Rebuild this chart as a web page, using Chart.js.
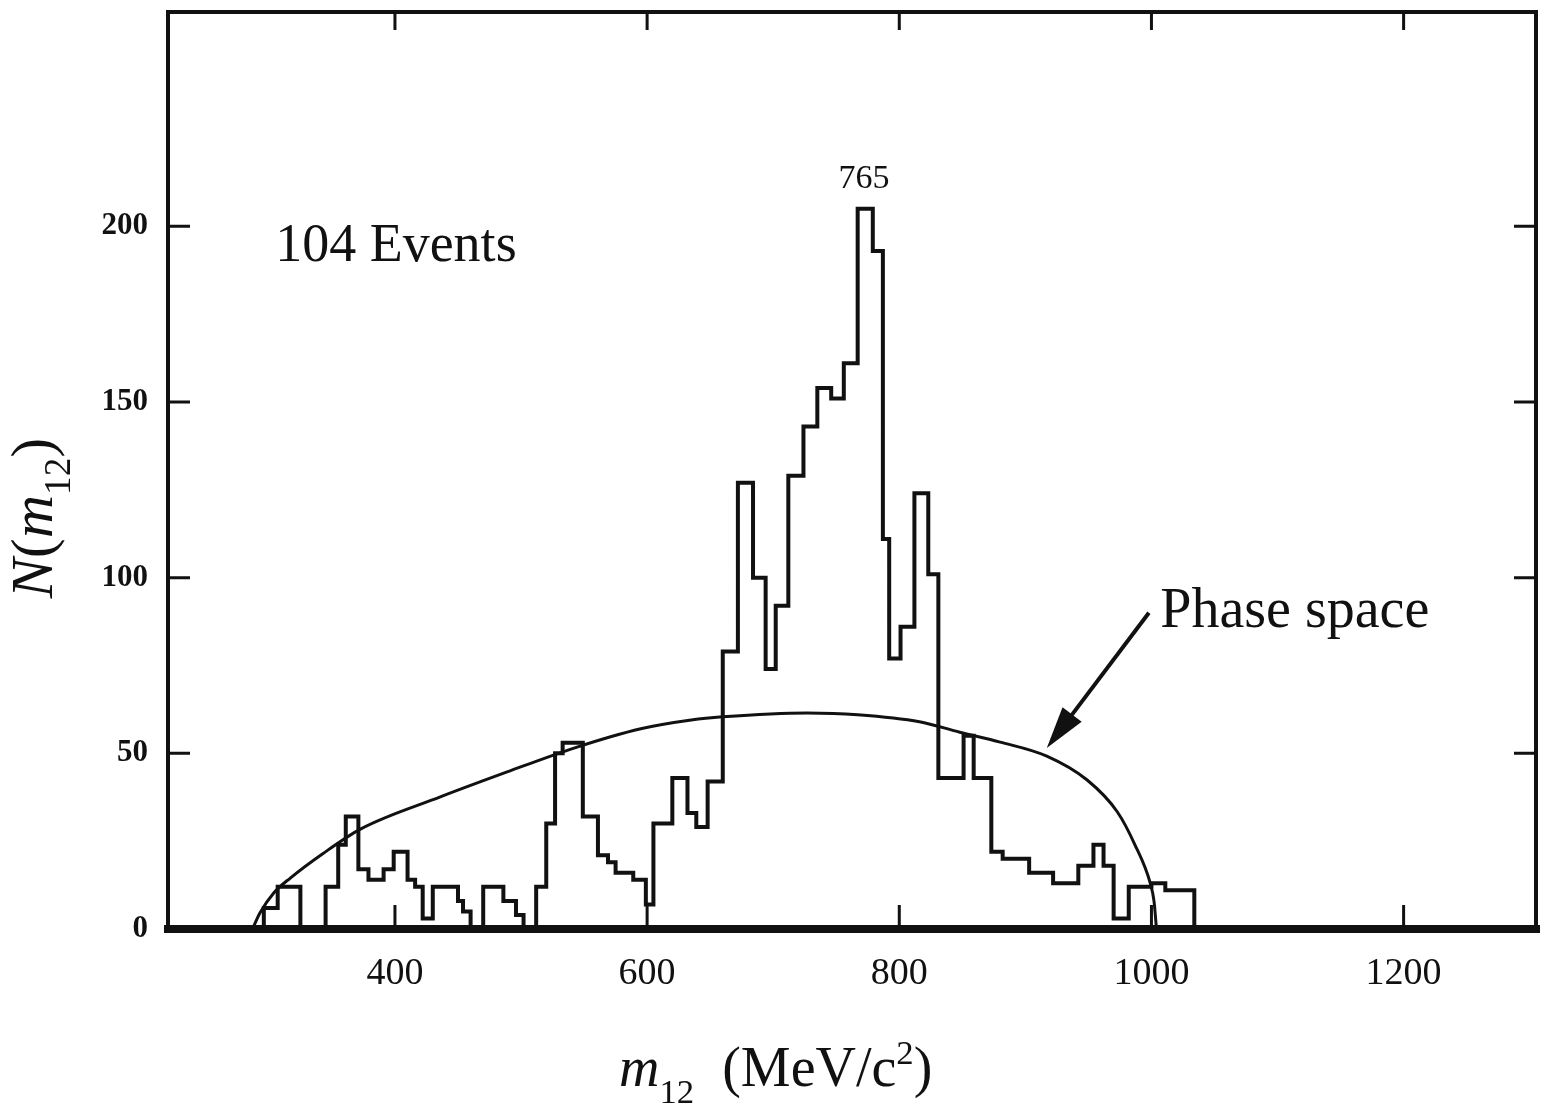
<!DOCTYPE html>
<html>
<head>
<meta charset="utf-8">
<script src="https://cdn.jsdelivr.net/npm/chart.js@4.4.1/dist/chart.umd.min.js"></script>
<style>
  html, body { margin: 0; padding: 0; background: #fff; }
</style>
</head>
<body>
<canvas id="massChart" width="1543" height="1107"></canvas>
<script>
// histogram bin edges, m12 in MeV/c^2
const binEdges = [296, 307, 325, 345, 355, 361, 371, 379, 391, 399, 410, 416, 422, 430, 450, 454,
  460, 470, 486, 496, 502, 512, 520, 527, 533, 549, 561, 569, 575, 589, 599, 605, 620, 632, 639,
  648, 660, 672, 684, 694, 702, 712, 724, 735, 746, 756, 767, 779, 787, 792, 801, 812, 823, 831,
  851, 859, 873, 882, 903, 922, 942, 954, 962, 970, 982, 1000, 1011, 1034];
// N(m12) in each bin
const binCounts = [6, 12, 0, 12, 24, 32, 17, 14, 17, 22, 14, 12, 3, 12, 8, 5,
  0, 12, 8, 4, 0, 12, 30, 50, 53, 32, 21, 19, 16, 14, 7, 30, 43, 33, 29,
  42, 79, 127, 100, 74, 92, 129, 143, 154, 151, 161, 205, 193, 111, 77, 86, 124, 101, 43,
  55, 43, 22, 20, 16, 13, 18, 24, 18, 3, 12, 13, 11];

// phase space curve
const psMass = [287, 293, 304, 317, 343, 373, 436, 489, 542, 595, 635, 660, 727, 767, 816, 848,
  880, 917, 949, 973, 987, 999, 1002, 1004];
const psValue = [0, 4.6, 10.3, 14.5, 21.5, 28.5, 37.6, 44.7, 51.5, 57, 59.5, 60.4, 61.5, 61, 59, 56,
  53.2, 49.2, 42.4, 33.3, 23.9, 13.1, 8, 0];

const xTickValues = [400, 600, 800, 1000, 1200];
const yTickValues = [0, 50, 100, 150, 200];

const ink = '#111';
const serif = "'Liberation Serif', 'DejaVu Serif', serif";

// step points: each bin value held from its left edge
const histPoints = [{ x: binEdges[0], y: 0 }];
binCounts.forEach((c, i) => histPoints.push({ x: binEdges[i], y: c }));
histPoints.push({ x: binEdges[binEdges.length - 1], y: 0 });

const psPoints = psMass.map((m, i) => ({ x: m, y: psValue[i] }));

function runFont(r, size) {
  const s = (r.sub || r.sup) ? size * 0.62 : size;
  return (r.italic ? 'italic ' : '') + s + 'px ' + serif;
}

function runsWidth(ctx, runs, size) {
  let w = 0;
  runs.forEach(r => {
    ctx.font = runFont(r, size);
    w += ctx.measureText(r.t).width;
  });
  return w;
}

function drawRuns(ctx, runs, x, y, size) {
  // text with italic / sub / sup pieces, x is the left edge
  let cx = x;
  runs.forEach(r => {
    ctx.font = runFont(r, size);
    const dy = r.sub ? size * 0.3 : r.sup ? -size * 0.4 : 0;
    ctx.fillText(r.t, cx, y + dy);
    cx += ctx.measureText(r.t).width;
  });
}

const framePlugin = {
  id: 'frame',
  afterDatasetsDraw(chart) {
    const { ctx, chartArea: a, scales: { x, y } } = chart;
    ctx.save();
    ctx.strokeStyle = ink;
    ctx.fillStyle = ink;
    ctx.lineCap = 'square';

    ctx.lineWidth = 4;
    ctx.beginPath();
    ctx.moveTo(a.left, a.bottom);
    ctx.lineTo(a.left, a.top);
    ctx.lineTo(a.right, a.top);
    ctx.lineTo(a.right, a.bottom);
    ctx.stroke();

    ctx.lineWidth = 8;
    ctx.beginPath();
    ctx.moveTo(a.left, a.bottom);
    ctx.lineTo(a.right, a.bottom);
    ctx.stroke();

    // inward tick marks
    ctx.lineWidth = 3;
    ctx.lineCap = 'butt';
    ctx.beginPath();
    xTickValues.forEach(v => {
      const px = x.getPixelForValue(v);
      ctx.moveTo(px, a.bottom);
      ctx.lineTo(px, a.bottom - 24);
      ctx.moveTo(px, a.top);
      ctx.lineTo(px, a.top + 18);
    });
    yTickValues.forEach(v => {
      if (v === 0) return;
      const py = y.getPixelForValue(v);
      ctx.moveTo(a.left, py);
      ctx.lineTo(a.left + 22, py);
      ctx.moveTo(a.right, py);
      ctx.lineTo(a.right - 22, py);
    });
    ctx.stroke();

    // annotations
    ctx.textBaseline = 'alphabetic';
    ctx.textAlign = 'left';
    ctx.font = '54px ' + serif;
    ctx.fillText('104 Events', x.getPixelForValue(305), y.getPixelForValue(190));

    ctx.textAlign = 'center';
    ctx.font = '34px ' + serif;
    ctx.fillText('765', x.getPixelForValue(772), y.getPixelForValue(211));

    ctx.textAlign = 'left';
    ctx.font = '56px ' + serif;
    ctx.fillText('Phase space', x.getPixelForValue(1007), y.getPixelForValue(86));

    // arrow to the phase space curve
    const tx = x.getPixelForValue(998), ty = y.getPixelForValue(90);
    const hx = x.getPixelForValue(917), hy = y.getPixelForValue(51.5);
    const ang = Math.atan2(hy - ty, hx - tx);
    ctx.lineWidth = 4;
    ctx.beginPath();
    ctx.moveTo(tx, ty);
    ctx.lineTo(hx - 30 * Math.cos(ang), hy - 30 * Math.sin(ang));
    ctx.stroke();
    ctx.beginPath();
    ctx.moveTo(hx, hy);
    ctx.lineTo(hx - 42 * Math.cos(ang) + 12 * Math.sin(ang), hy - 42 * Math.sin(ang) - 12 * Math.cos(ang));
    ctx.lineTo(hx - 42 * Math.cos(ang) - 12 * Math.sin(ang), hy - 42 * Math.sin(ang) + 12 * Math.cos(ang));
    ctx.closePath();
    ctx.fill();

    // axis titles
    ctx.textAlign = 'left';
    const xRuns = [{ t: 'm', italic: true }, { t: '12', sub: true }, { t: '  (MeV/c' }, { t: '2', sup: true }, { t: ')' }];
    const xw = runsWidth(ctx, xRuns, 56);
    drawRuns(ctx, xRuns, x.getPixelForValue(702) - xw / 2, 1086, 56);

    const yRuns = [{ t: 'N', italic: true }, { t: '(' }, { t: 'm', italic: true }, { t: '12', sub: true }, { t: ')' }];
    const yw = runsWidth(ctx, yRuns, 60);
    ctx.translate(52, 518);
    ctx.rotate(-Math.PI / 2);
    drawRuns(ctx, yRuns, -yw / 2, 0, 60);
    ctx.restore();
  }
};

new Chart(document.getElementById('massChart'), {
  type: 'line',
  data: {
    datasets: [
      {
        label: 'Events',
        data: histPoints,
        stepped: true,
        borderColor: ink,
        borderWidth: 4,
        borderJoinStyle: 'miter',
        pointRadius: 0,
        fill: false
      },
      {
        label: 'Phase space',
        data: psPoints,
        borderColor: ink,
        borderWidth: 3,
        pointRadius: 0,
        cubicInterpolationMode: 'monotone',
        fill: false
      }
    ]
  },
  options: {
    responsive: false,
    animation: false,
    layout: { padding: { top: 12, right: 7, left: 0, bottom: 0 } },
    plugins: { legend: { display: false }, tooltip: { enabled: false } },
    scales: {
      x: {
        type: 'linear',
        min: 220,
        max: 1305,
        afterBuildTicks: s => { s.ticks = xTickValues.map(v => ({ value: v })); },
        afterFit: s => { s.height = 178; s.paddingLeft = 0; s.paddingRight = 0; },
        grid: { display: false, drawTicks: false },
        border: { display: false },
        ticks: {
          color: ink,
          padding: 22,
          maxRotation: 0,
          font: { family: serif, size: 38 },
          callback: v => String(v)
        }
      },
      y: {
        type: 'linear',
        min: 0,
        max: 261,
        afterBuildTicks: s => { s.ticks = yTickValues.map(v => ({ value: v })); },
        afterFit: s => { s.width = 168; s.paddingTop = 0; s.paddingBottom = 0; },
        grid: { display: false, drawTicks: false },
        border: { display: false },
        ticks: {
          color: ink,
          padding: 20,
          font: { family: serif, size: 31, weight: 'bold' },
          callback: v => String(v)
        }
      }
    }
  },
  plugins: [framePlugin]
});
</script>
</body>
</html>
